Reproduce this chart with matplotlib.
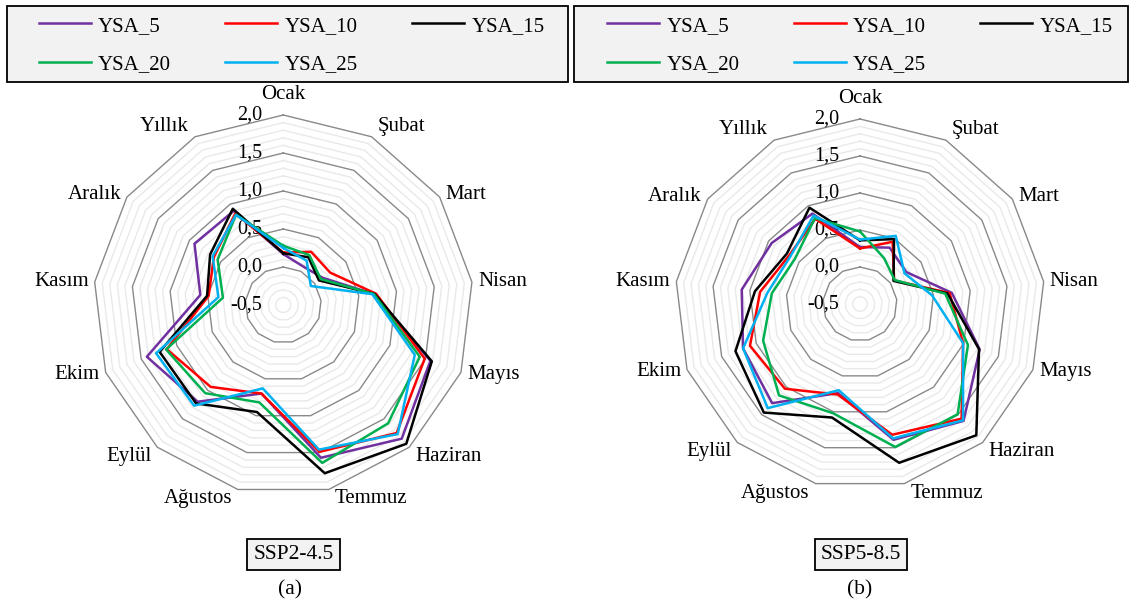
import numpy as np
import matplotlib
matplotlib.use("Agg")
import matplotlib.pyplot as plt
from matplotlib.lines import Line2D
from matplotlib.patches import Rectangle
from matplotlib.transforms import offset_copy

plt.rcParams["font.family"] = ["Liberation Serif", "DejaVu Serif"]

W, H = 1130, 605

months = ["Ocak", "Şubat", "Mart", "Nisan", "Mayıs", "Haziran", "Temmuz",
          "Ağustos", "Eylül", "Ekim", "Kasım", "Aralık", "Yıllık"]
series_names = ["YSA_5", "YSA_10", "YSA_15", "YSA_20", "YSA_25"]
colors = ["#7030A0", "#FF0000", "#000000", "#00B050", "#00B0F0"]
r_ticks = [-0.5, 0.0, 0.5, 1.0, 1.5, 2.0]

# SSP2-4.5 (a)
ysa5_245 = [0.17, 0.07, 0.13, 0.70, 1.57, 1.85, 1.57, 0.70, 1.20, 1.42, 0.60, 0.92, 0.90]
ysa10_245 = [0.19, 0.29, 0.25, 0.73, 1.49, 1.75, 1.49, 0.70, 0.94, 1.14, 0.49, 0.61, 0.86]
ysa15_245 = [0.18, 0.21, 0.07, 0.71, 1.59, 1.94, 1.78, 0.95, 1.23, 1.24, 0.51, 0.67, 0.93]
ysa20_245 = [0.28, 0.24, 0.10, 0.70, 1.42, 1.58, 1.64, 0.82, 1.05, 1.15, 0.30, 0.55, 0.84]
ysa25_245 = [0.25, 0.16, -0.06, 0.68, 1.35, 1.77, 1.46, 0.63, 1.27, 1.29, 0.36, 0.63, 0.84]

# SSP5-8.5 (b)
ysa5_585 = [0.27, 0.36, 0.26, 0.75, 1.23, 1.61, 1.39, 0.74, 1.29, 1.19, 1.11, 0.95, 0.88]
ysa10_585 = [0.25, 0.45, 0.06, 0.72, 0.99, 1.57, 1.32, 0.76, 1.03, 1.09, 0.86, 0.66, 0.80]
ysa15_585 = [0.36, 0.49, 0.05, 0.69, 1.22, 1.87, 1.71, 1.08, 1.46, 1.30, 0.93, 0.70, 0.97]
ysa20_585 = [0.48, 0.20, 0.07, 0.66, 1.06, 1.49, 1.49, 1.02, 1.15, 0.90, 0.70, 0.57, 0.81]
ysa25_585 = [0.37, 0.54, 0.23, 0.48, 0.99, 1.60, 1.37, 0.70, 1.38, 1.19, 0.76, 0.64, 0.85]


def px_rect(cx, cy, r):
    return [(cx - r) / W, 1 - (cy + r) / H, 2 * r / W, 2 * r / H]


def draw_radar(fig, cx, cy, rad, data):
    ax = fig.add_axes(px_rect(cx, cy, rad), projection="polar")
    ax.set_theta_zero_location("N")
    ax.set_theta_direction(-1)
    ax.set_ylim(-0.5, 2.0)
    ax.axis("off")

    n = len(months)
    theta = np.arange(n) * 2 * np.pi / n
    th = np.append(theta, theta[0])

    # polygon grid: minor every 0.1, major every 0.5
    for k in range(1, 26):
        lev = -0.5 + k * 0.1
        major = k % 5 == 0
        ax.plot(th, np.full(th.shape, lev), color="#898989" if major else "#e9e9e9",
                lw=1.0, zorder=1.5 if major else 1, clip_on=False)

    trans = offset_copy(ax.transData, fig=fig, x=-21, y=0, units="dots")
    for v in r_ticks:
        ax.text(0, v, f"{v:.1f}".replace(".", ","), transform=trans,
                ha="right", va="center", fontsize=14.5, zorder=1.8)

    for vals, col, name in zip(data, colors, series_names):
        vv = np.append(vals, vals[0])
        ax.plot(th, vv, color=col, lw=1.8, zorder=3, label=name, clip_on=False)

    for t, lab in zip(theta, months):
        s, c = np.sin(t), np.cos(t)
        if abs(s) < 0.05:
            ha, dx = "center", 0
        elif s > 0:
            ha, dx = "left", 6
        else:
            ha, dx = "right", -6
        if c > 0.8:
            va, dy = "bottom", (11 if abs(s) < 0.05 else 1)
        elif c < -0.7:
            va, dy = "top", 0
        else:
            va, dy = "center", 5 * c
        tr = offset_copy(ax.transData, fig=fig, x=dx, y=dy, units="dots")
        ax.text(t, 2.0, lab, transform=tr, ha=ha, va=va, fontsize=15)
    return ax


def draw_legend(fig, x0, y0, x1, y1, cx):
    fig.add_artist(Rectangle((x0 / W, 1 - y1 / H), (x1 - x0) / W, (y1 - y0) / H,
                             transform=fig.transFigure, facecolor="#f2f2f2",
                             edgecolor="black", lw=1.3, zorder=0))
    handles = [Line2D([], [], color=c, lw=1.8) for c in colors]
    order = [0, 3, 1, 4, 2]
    fig.legend([handles[i] for i in order], [series_names[i] for i in order],
               loc="center", bbox_to_anchor=(cx / W, 1 - ((y0 + y1) / 2 + 1) / H),
               ncol=3, frameon=False, fontsize=15, handlelength=2.5,
               handletextpad=0.35, columnspacing=2.6, labelspacing=0.9)


fig = plt.figure(figsize=(W / 100, H / 100), dpi=100)

draw_radar(fig, 283.3, 305, 190, [ysa5_245, ysa10_245, ysa15_245, ysa20_245, ysa25_245])
draw_radar(fig, 860, 304, 185, [ysa5_585, ysa10_585, ysa15_585, ysa20_585, ysa25_585])

draw_legend(fig, 7, 6, 568, 82, 291.5)
draw_legend(fig, 574, 6, 1128, 82, 860)

box = dict(boxstyle="square,pad=0.28", fc="#f2f2f2", ec="black", lw=1.3)
fig.text(293.5 / W, 1 - 554.5 / H, "SSP2-4.5", ha="center", va="center", fontsize=15.5, bbox=box)
fig.text(290 / W, 1 - 590 / H, "(a)", ha="center", va="center", fontsize=15.5)
fig.text(861 / W, 1 - 554.5 / H, "SSP5-8.5", ha="center", va="center", fontsize=15.5, bbox=box)
fig.text(860 / W, 1 - 590 / H, "(b)", ha="center", va="center", fontsize=15.5)

fig.savefig("out.png", dpi=100)
